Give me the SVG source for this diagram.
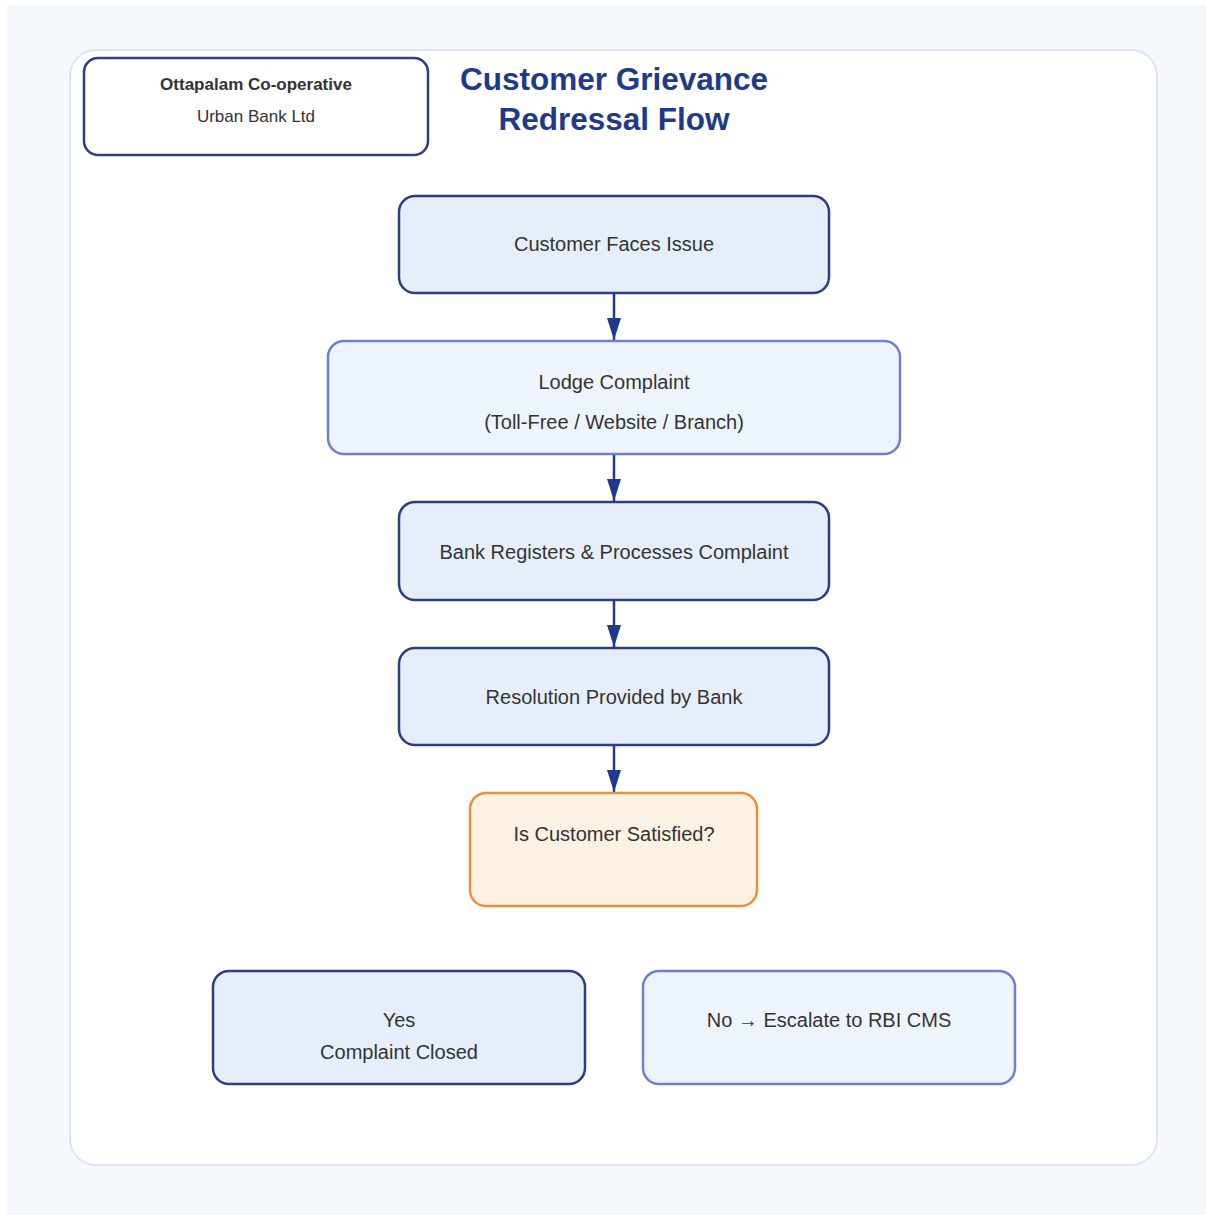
<svg xmlns="http://www.w3.org/2000/svg" width="1206" height="1215" viewBox="0 0 1206 1215">
<defs>
<marker id="ah" viewBox="0 0 22 14" refX="22" refY="7" markerWidth="22" markerHeight="14" markerUnits="userSpaceOnUse" orient="auto">
<path d="M0,0 L22,7 L0,14 z" fill="#1f3a8a"/>
</marker>
<style>
.t{font-family:"Liberation Sans",Arial,sans-serif;font-size:20px;fill:#333;text-anchor:middle}
.dark{fill:#e6eefb;stroke:#2c3e7e;stroke-width:2.5}
.light{fill:#eef4fd;stroke:#6f7fd0;stroke-width:2.5}
.dec{fill:#fdf1e3;stroke:#e8913a;stroke-width:2.5}
.c{stroke:#1f3a8a;stroke-width:2.5;fill:none;marker-end:url(#ah)}
.ti{font-family:"Liberation Sans",Arial,sans-serif;font-size:31.5px;font-weight:bold;fill:#1f3a8a;text-anchor:middle}
</style>
</defs>
<rect x="0" y="0" width="1206" height="1215" fill="#ffffff"/>
<rect x="7" y="5" width="1199" height="1210" fill="#f5f8fc"/>
<rect x="70" y="50" width="1087" height="1115" rx="26" fill="#ffffff" stroke="#dfe4f2" stroke-width="2"/>
<g id="header">
<rect x="84" y="58" width="344" height="97" rx="14" fill="#ffffff" stroke="#2c3e7e" stroke-width="2.5"/>
<text class="t" x="256" y="90" style="font-size:17px;font-weight:bold">Ottapalam Co-operative</text>
<text class="t" x="256" y="122" style="font-size:17px">Urban Bank Ltd</text>
</g>
<g id="title">
<text class="ti" x="614" y="90">Customer Grievance</text>
<text class="ti" x="614" y="130">Redressal Flow</text>
</g>
<g id="connectors">
<line class="c" x1="614" y1="294" x2="614" y2="340"/>
<line class="c" x1="614" y1="455" x2="614" y2="501"/>
<line class="c" x1="614" y1="601" x2="614" y2="647"/>
<line class="c" x1="614" y1="746" x2="614" y2="792"/>
</g>
<g id="n1">
<rect class="dark" x="399" y="196" width="430" height="97" rx="16"/>
<text class="t" x="614" y="251">Customer Faces Issue</text>
</g>
<g id="n2">
<rect class="light" x="328" y="341" width="572" height="113" rx="16"/>
<text class="t" x="614" y="389">Lodge Complaint</text>
<text class="t" x="614" y="429">(Toll-Free / Website / Branch)</text>
</g>
<g id="n3">
<rect class="dark" x="399" y="502" width="430" height="98" rx="16"/>
<text class="t" x="614" y="559">Bank Registers &amp; Processes Complaint</text>
</g>
<g id="n4">
<rect class="dark" x="399" y="648" width="430" height="97" rx="16"/>
<text class="t" x="614" y="704">Resolution Provided by Bank</text>
</g>
<g id="n5">
<rect class="dec" x="470" y="793" width="287" height="113" rx="16"/>
<text class="t" x="614" y="841">Is Customer Satisfied?</text>
</g>
<g id="n6">
<rect class="dark" x="213" y="971" width="372" height="113" rx="16"/>
<text class="t" x="399" y="1027">Yes</text>
<text class="t" x="399" y="1059">Complaint Closed</text>
</g>
<g id="n7">
<rect class="light" x="643" y="971" width="372" height="113" rx="16"/>
<text class="t" x="829" y="1027">No → Escalate to RBI CMS</text>
</g>
</svg>
